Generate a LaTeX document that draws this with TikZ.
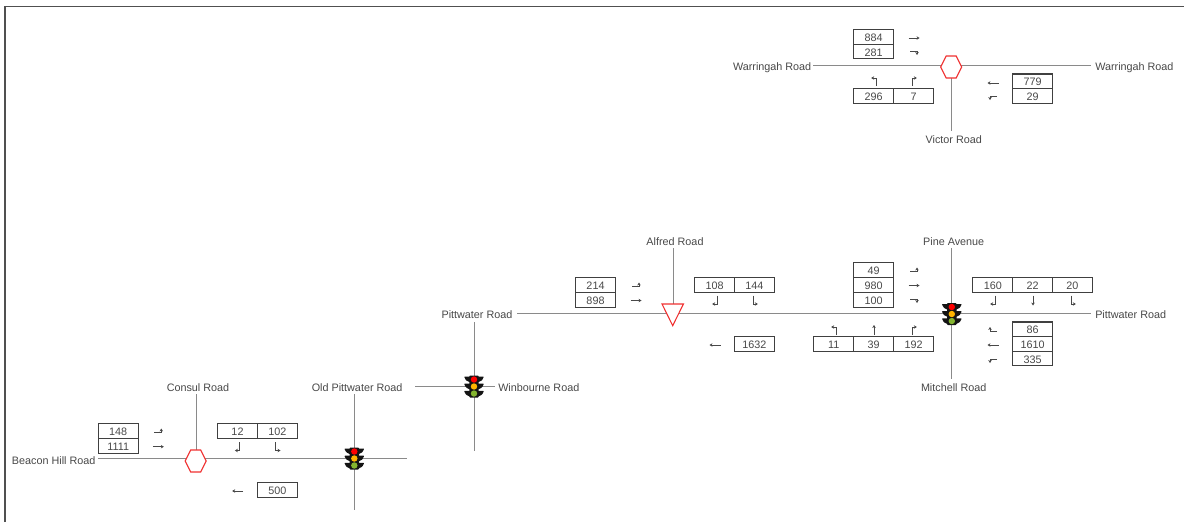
\documentclass[tikz,border=0pt]{standalone}
\usepackage{fontspec}
\setmainfont{Liberation Sans}
\usetikzlibrary{arrows.meta}
\definecolor{txt}{HTML}{484848}
\definecolor{rd}{HTML}{8A8A8A}
\definecolor{boxc}{HTML}{404040}
\definecolor{tlb}{HTML}{141414}
\definecolor{framec}{HTML}{505050}
\definecolor{amberc}{HTML}{FFB400}
\definecolor{greenc}{HTML}{84B52F}
\definecolor{signc}{HTML}{F03030}
\tikzset{
 x=0.75pt,y=-0.75pt,
 roadline/.style={draw=rd,line width=0.75pt},
 cellbox/.style={draw=boxc,line width=0.8pt,minimum width=30pt,minimum height=11pt,inner sep=0pt,text=txt,font=\fontsize{8.1pt}{10pt}\selectfont,anchor=center,text height=6.8pt,text depth=0pt},
 lab/.style={text=txt,inner sep=0pt,font=\fontsize{8.1pt}{10pt}\selectfont,text height=6.2pt,text depth=1.7pt,yshift=-0.7pt},
 signshape/.style={draw=signc,line width=0.8pt,fill=white,line join=miter},
 turnarrow/.style={draw=txt,line width=0.5pt,-{Stealth[length=2.2pt,width=2.6pt]}},
}
% arrow glyphs, centred on the given point, in pixel units
\newcommand{\glyph}[2]{\begin{scope}[shift={(#1)}]\draw[turnarrow] #2;\end{scope}}
\newcommand{\arrT}[1]{\glyph{#1}{(-5.5,0) -- (5.5,0)}}
\newcommand{\arrW}[1]{\glyph{#1}{(5.5,0) -- (-5.5,0)}}
\newcommand{\arrS}[1]{\glyph{#1}{(0,5) -- (0,-5)}}
\newcommand{\arrDn}[1]{\glyph{#1}{(0,-5) -- (0,5)}}
\newcommand{\arrEU}[1]{\glyph{#1}{(-4,1.5) -- (3,1.5) -- (3,-2.5)}}
\newcommand{\arrED}[1]{\glyph{#1}{(-4,-1.5) -- (3,-1.5) -- (3,2.5)}}
\newcommand{\arrWU}[1]{\glyph{#1}{(4,1.5) -- (-3,1.5) -- (-3,-2.5)}}
\newcommand{\arrWD}[1]{\glyph{#1}{(4,-1.5) -- (-3,-1.5) -- (-3,2.5)}}
\newcommand{\arrNL}[1]{\glyph{#1}{(2,5) -- (2,-3) -- (-2.8,-3)}}
\newcommand{\arrNR}[1]{\glyph{#1}{(-2,5) -- (-2,-3) -- (2.8,-3)}}
\newcommand{\arrSL}[1]{\glyph{#1}{(2,-5) -- (2,3.5) -- (-2.8,3.5)}}
\newcommand{\arrSR}[1]{\glyph{#1}{(-2,-5) -- (-2,3.5) -- (2.8,3.5)}}
% traffic light centred on #1
\newcommand{\tlight}[1]{\begin{scope}[shift={(#1)}]
 \foreach \yy in {-7.2,0,7.2}{
  \fill[tlb,rounded corners=0.5pt] (-10,\yy-2.8) -- (10,\yy-2.8) -- (8,\yy+1) -- (4,\yy+3) -- (-4,\yy+3) -- (-8,\yy+1) -- cycle;}
 \fill[tlb,rounded corners=0.6pt] (-4.7,-11) rectangle (4.7,11);
 \fill[red] (0,-7) circle[radius=3.2];
 \fill[amberc] (0,0) circle[radius=3.2];
 \fill[greenc] (0,7) circle[radius=3.2];
\end{scope}}
\newcommand{\hexa}[3]{\coordinate (#3) at (#1,#2);
 \draw[signshape] ([shift={(-5,-11)}]#3) -- ++(10,0) -- ++(5.5,11) -- ++(-5.5,11) -- ++(-10,0) -- ++(-5.5,-11) -- cycle;}
\begin{document}
\begin{tikzpicture}
\useasboundingbox (0,0) rectangle (1184,522);
\coordinate (fa) at (5,522);\coordinate (fb) at (5,6.5);\coordinate (fc) at (1184,6.5);
\draw[draw=framec,line width=1pt] (fa) -- (fb) -- (fc);

% named road ends
\foreach \n/\xx/\yy in {
 wl/813/65, wr/1091/65, wj/951/65, vb/951/131,
 pa/951/248, mb/951/379, pe/1091/313, pj/951/313, pw/517/313,
 at/673/248, aj/673/313,
 wt/474/322, wb/474/451, wj2/474/386, wwl/415/386, wwr/495/386,
 cw/98/458.5, ce/407/458.5, ct/196/394, cj/196/458.5,
 ot/354.5/394, ob/354.5/509.5}
 {\coordinate (\n) at (\xx,\yy);}

\draw[roadline] (wl) -- (wr);
\draw[roadline] (wj) -- (vb);
\draw[roadline] (pw) -- (pe);
\draw[roadline] (pa) -- (mb);
\draw[roadline] (at) -- (aj);
\draw[roadline] (wt) -- (wb);
\draw[roadline] (wwl) -- (wwr);
\draw[roadline] (cw) -- (ce);
\draw[roadline] (ct) -- (cj);
\draw[roadline] (ot) -- (ob);

% signs
\hexa{951.2}{67}{hx1}
\hexa{195.7}{461}{hx2}
\coordinate (ya) at (662,304);\coordinate (yb) at (683.4,304);\coordinate (yc) at (672.7,325.7);
\draw[signshape] (ya) -- (yb) -- (yc) -- cycle;
\tlight{951.8,314}
\tlight{474,386.5}
\tlight{354.3,458.5}

% Warringah / Victor
\node[cellbox] (a1) at (873.7,36.8) {884};
\node[cellbox] (a2) at (873.7,51.5) {281};
\node[cellbox] (a3) at (873.7,95.8) {296};
\node[cellbox] (a4) at (913.7,95.8) {7};
\node[cellbox] (a5) at (1032.7,81.3) {779};
\node[cellbox] (a6) at (1032.7,96) {29};
\arrT{914,38}\arrED{914,52.5}\arrNL{874,81}\arrNR{914,81}\arrW{993,83}\arrWD{993,97.5}
\node[lab,anchor=east] (l1) at (811.5,67) {Warringah Road};
\node[lab,anchor=west] (l2) at (1095,67) {Warringah Road};
\node[lab] (l3) at (953.7,140) {Victor Road};

% Pine / Mitchell
\node[cellbox] (b1) at (873.7,270.2) {49};
\node[cellbox] (b2) at (873.7,285) {980};
\node[cellbox] (b3) at (873.7,299.7) {100};
\arrEU{914,270}\arrT{914,285.5}\arrED{914,300.5}
\node[cellbox] (b4) at (992.9,285) {160};
\node[cellbox] (b5) at (1032.5,285) {22};
\node[cellbox] (b6) at (1072.3,285) {20};
\arrSL{993,300.5}\arrDn{1033,300.5}\arrSR{1073,300.5}
\node[cellbox] (b7) at (1032.5,329.3) {86};
\node[cellbox] (b8) at (1032.5,344) {1610};
\node[cellbox] (b9) at (1032.5,358.6) {335};
\arrWU{993,329.5}\arrW{993,345}\arrWD{993,360.5}
\node[cellbox] (b10) at (833.7,344) {11};
\node[cellbox] (b11) at (873.7,344) {39};
\node[cellbox] (b12) at (913.7,344) {192};
\arrNL{834,330}\arrS{874,330}\arrNR{914,330}
\node[lab] (l4) at (953.7,241.7) {Pine Avenue};
\node[lab] (l5) at (953.7,387.5) {Mitchell Road};
\node[lab,anchor=west] (l6) at (1095,314.7) {Pittwater Road};

% Alfred
\node[cellbox] (c1) at (595.5,285) {214};
\node[cellbox] (c2) at (595.5,299.7) {898};
\arrEU{636,285}\arrT{636,300.5}
\node[cellbox] (c3) at (714.5,285) {108};
\node[cellbox] (c4) at (754.3,285) {144};
\arrSL{715,300.5}\arrSR{755,300.5}
\node[cellbox] (c5) at (754.3,344) {1632};
\arrW{715,345}
\node[lab] (l7) at (675,241.7) {Alfred Road};
\node[lab,anchor=west] (l8) at (441.3,314.7) {Pittwater Road};
\node[lab,anchor=west] (l9) at (498,387.3) {Winbourne Road};

% Consul
\node[cellbox] (d1) at (118.2,431) {148};
\node[cellbox] (d2) at (118.2,445.7) {1111};
\arrEU{158.3,431}\arrT{158.3,446.7}
\node[cellbox] (d3) at (237.5,431) {12};
\node[cellbox] (d4) at (277.3,431) {102};
\arrSL{237.7,447}\arrSR{277.7,447}
\node[cellbox] (d5) at (277.3,490) {500};
\arrW{237.7,491}
\node[lab] (l10) at (198,387.3) {Consul Road};
\node[lab,anchor=east] (l11) at (402.7,387.3) {Old Pittwater Road};
\node[lab,anchor=east] (l12) at (95.7,460.7) {Beacon Hill Road};
\end{tikzpicture}
\end{document}
